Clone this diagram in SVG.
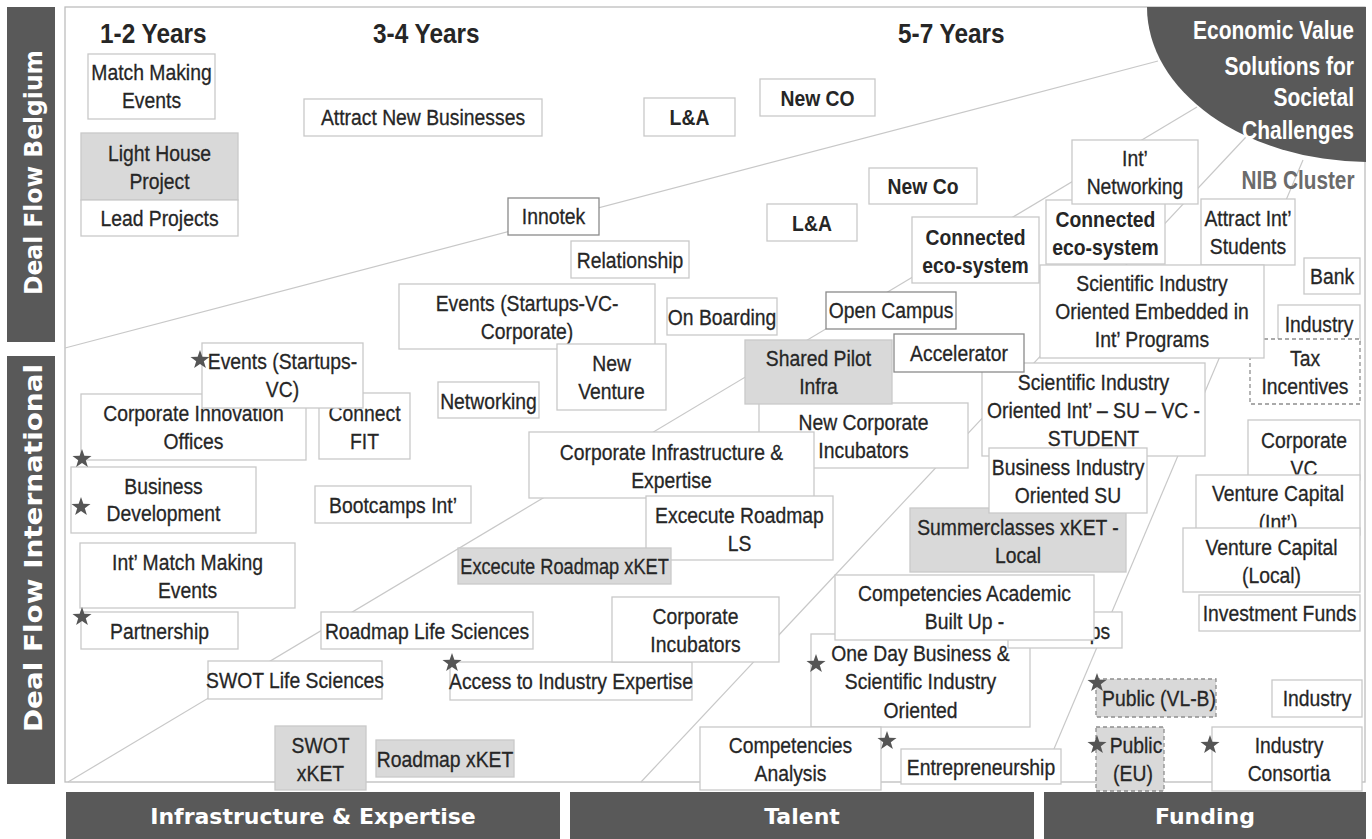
<svg xmlns="http://www.w3.org/2000/svg" width="1372" height="839" viewBox="0 0 1372 839">
<style>
.frame{fill:#fff;stroke:#bdbdbd;stroke-width:1.3}
.ln{stroke:#c8c8c8;stroke-width:1.2;fill:none}
.band{fill:#595959}
.bt{font-family:"DejaVu Sans",Verdana,sans-serif;font-weight:bold;font-size:22px;fill:#fff;text-anchor:middle}
.vt{font-family:"DejaVu Sans",Verdana,sans-serif;font-weight:bold;font-size:25px;fill:#fff;text-anchor:middle}
.box{fill:#fff;stroke:#c9c9c9;stroke-width:1.3}
.gbox{fill:#d9d9d9;stroke:#c9c9c9;stroke-width:1.3}
.dk{stroke:#8a8a8a}
.dash{stroke:#8f8f8f;stroke-dasharray:4 3}
.t{font-family:"Liberation Sans",Arial,sans-serif;font-size:22.5px;fill:#262626;stroke:#262626;stroke-width:0.3;text-anchor:middle;transform-box:fill-box;transform-origin:50% 50%;transform:scaleX(0.86)}
.nar{transform:scaleX(0.81)}
.b{font-weight:bold;stroke-width:0}
.yr{font-family:"Liberation Sans",Arial,sans-serif;font-size:28px;font-weight:bold;fill:#262626;transform-box:fill-box;transform-origin:0% 50%;transform:scaleX(0.87)}
.ev{font-family:"Liberation Sans",Arial,sans-serif;font-size:25px;font-weight:bold;fill:#fff;text-anchor:end;transform-box:fill-box;transform-origin:100% 50%;transform:scaleX(0.84)}
.nib{font-family:"Liberation Sans",Arial,sans-serif;font-size:25px;font-weight:bold;fill:#6b6b6b;text-anchor:middle;transform-box:fill-box;transform-origin:50% 50%;transform:scaleX(0.83)}
.star{fill:#555}
</style>
<defs>
<polygon id="star" points="0,-10 2.35,-3.24 9.51,-3.09 3.8,1.24 5.88,8.09 0,4 -5.88,8.09 -3.8,1.24 -9.51,-3.09 -2.35,-3.24"/>
</defs>
<rect class="frame" x="65" y="7" width="1300" height="775"/>
<g id="bands">
<rect class="band" x="7" y="7" width="48" height="335"/>
<text class="vt" transform="translate(42,172.5) rotate(-90)" textLength="245" lengthAdjust="spacingAndGlyphs">Deal Flow Belgium</text>
<rect class="band" x="7" y="356" width="48" height="428"/>
<text class="vt" transform="translate(42,548) rotate(-90)" textLength="368" lengthAdjust="spacingAndGlyphs">Deal Flow International</text>
<rect class="band" x="66" y="792" width="494" height="47"/>
<text class="bt" x="313" y="824">Infrastructure &amp; Expertise</text>
<rect class="band" x="570" y="792" width="464" height="47"/>
<text class="bt" x="802" y="824">Talent</text>
<rect class="band" x="1044" y="792" width="322" height="47"/>
<text class="bt" x="1205" y="824">Funding</text>
</g>
<g id="connectors">
<line class="ln" x1="65" y1="348" x2="1158" y2="61"/>
<line class="ln" x1="68" y1="782" x2="1197" y2="107"/>
<line class="ln" x1="641" y1="782" x2="1246" y2="137"/>
<line class="ln" x1="1040" y1="782" x2="1303" y2="160"/>
</g>
<g id="goal">
<path class="band" d="M1147,7 A223,155 0 0 0 1366,162 L1366,7 Z"/>
<text class="ev" x="1354" y="39">Economic Value</text>
<text class="ev" x="1354" y="75">Solutions for</text>
<text class="ev" x="1354" y="106">Societal</text>
<text class="ev" x="1354" y="139">Challenges</text>
</g>
<g id="years">
<text class="yr" x="100" y="43">1-2 Years</text>
<text class="yr" x="373" y="43">3-4 Years</text>
<text class="yr" x="898" y="43">5-7 Years</text>
</g>
<g id="n-match"><rect class="box" x="88" y="54" width="127" height="65"/><text class="t" x="151.5" y="80">Match Making</text><text class="t" x="151.5" y="108">Events</text></g>
<g id="n-lighthouse"><rect class="gbox" x="81" y="133" width="157" height="67"/><text class="t" x="159.5" y="161">Light House</text><text class="t" x="159.5" y="189">Project</text></g>
<g id="n-lead"><rect class="box" x="81" y="200" width="157" height="36"/><text class="t" x="159.5" y="226">Lead Projects</text></g>
<g id="n-attract"><rect class="box" x="304" y="99" width="238" height="37"/><text class="t" x="423" y="125">Attract New Businesses</text></g>
<g id="n-la1"><rect class="box" x="644" y="98" width="91" height="38"/><text class="t b" x="689.5" y="125">L&amp;A</text></g>
<g id="n-newco1"><rect class="box" x="760" y="79" width="115" height="37"/><text class="t b" x="817.5" y="106">New CO</text></g>
<g id="n-newco2"><rect class="box" x="869" y="168" width="108" height="36"/><text class="t b" x="923" y="194">New Co</text></g>
<g id="n-la2"><rect class="box" x="767" y="204" width="90" height="37"/><text class="t b" x="812" y="231">L&amp;A</text></g>
<g id="n-innotek"><rect class="box dk" x="508" y="198" width="91" height="37"/><text class="t" x="553.5" y="224">Innotek</text></g>
<g id="n-relationship"><rect class="box" x="571" y="241" width="118" height="37"/><text class="t" x="630" y="268">Relationship</text></g>
<g id="n-events-vcc"><rect class="box" x="399" y="284" width="256" height="65"/><text class="t" x="527" y="311">Events (Startups-VC-</text><text class="t" x="527" y="339">Corporate)</text></g>
<g id="n-onboarding"><rect class="box" x="667" y="298" width="110" height="37"/><text class="t" x="722" y="325">On Boarding</text></g>
<g id="n-newventure"><rect class="box" x="557" y="344" width="109" height="66"/><text class="t" x="611.5" y="371">New</text><text class="t" x="611.5" y="399">Venture</text></g>
<g id="n-networking"><rect class="box" x="438" y="382" width="101" height="36"/><text class="t" x="488.5" y="409">Networking</text></g>
<g id="n-corpinno"><rect class="box" x="81" y="394" width="225" height="66"/><text class="t" x="193.5" y="421">Corporate Innovation</text><text class="t" x="193.5" y="449">Offices</text></g>
<g id="n-connectfit"><rect class="box" x="319" y="393" width="91" height="66"/><text class="t" x="364.5" y="421">Connect</text><text class="t" x="364.5" y="449">FIT</text></g>
<g id="n-events-vc"><rect class="box" x="202" y="343" width="161" height="65"/><text class="t" x="282.5" y="369">Events (Startups-</text><text class="t" x="282.5" y="397">VC)</text><use href="#star" class="star" x="200" y="360"/></g>
<g id="n-bizdev"><rect class="box" x="71" y="467" width="185" height="66"/><text class="t" x="163.5" y="494">Business</text><text class="t" x="163.5" y="521">Development</text><use href="#star" class="star" x="81" y="507"/></g>
<use href="#star" class="star" x="82" y="459"/>
<g id="n-bootcamps"><rect class="box" x="315" y="486" width="156" height="37"/><text class="t" x="393" y="513">Bootcamps Int’</text></g>
<g id="n-intmatch"><rect class="box" x="80" y="543" width="215" height="65"/><text class="t" x="187.5" y="570">Int’ Match Making</text><text class="t" x="187.5" y="598">Events</text></g>
<g id="n-partnership"><rect class="box" x="81" y="612" width="157" height="37"/><text class="t" x="159.5" y="639">Partnership</text><use href="#star" class="star" x="82" y="617"/></g>
<g id="n-roadmapls"><rect class="box" x="321" y="612" width="212" height="37"/><text class="t" x="427" y="639">Roadmap Life Sciences</text></g>
<g id="n-swotls"><rect class="box" x="208" y="661" width="174" height="38"/><text class="t" x="295" y="688">SWOT Life Sciences</text></g>
<g id="n-access"><rect class="box" x="450" y="662" width="242" height="38"/><text class="t" x="571" y="689">Access to Industry Expertise</text><use href="#star" class="star" x="452" y="663"/></g>
<g id="n-swotxket"><rect class="gbox" x="275" y="726" width="91" height="64"/><text class="t" x="320.5" y="753">SWOT</text><text class="t" x="320.5" y="781">xKET</text></g>
<g id="n-roadmapxket"><rect class="gbox" x="376" y="740" width="138" height="37"/><text class="t" x="445" y="767">Roadmap xKET</text></g>
<g id="n-newcorpinc"><rect class="box" x="759" y="403" width="209" height="65"/><text class="t" x="863.5" y="430">New Corporate</text><text class="t" x="863.5" y="458">Incubators</text></g>
<g id="n-shared"><rect class="gbox" x="745" y="340" width="147" height="64"/><text class="t" x="818.5" y="366">Shared Pilot</text><text class="t" x="818.5" y="394">Infra</text></g>
<g id="n-corpinfra"><rect class="box" x="529" y="432" width="285" height="66"/><text class="t" x="671.5" y="460">Corporate Infrastructure &amp;</text><text class="t" x="671.5" y="488">Expertise</text></g>
<g id="n-execls"><rect class="box" x="646" y="496" width="187" height="64"/><text class="t" x="739.5" y="523">Excecute Roadmap</text><text class="t" x="739.5" y="551">LS</text></g>
<g id="n-execxket"><rect class="gbox" x="458" y="548" width="213" height="36"/><text class="t nar" x="564.5" y="574">Excecute Roadmap xKET</text></g>
<g id="n-corpinc"><rect class="box" x="612" y="597" width="167" height="65"/><text class="t" x="695.5" y="624">Corporate</text><text class="t" x="695.5" y="652">Incubators</text></g>
<g id="n-opencampus"><rect class="box dk" x="826" y="292" width="130" height="37"/><text class="t" x="891" y="318">Open Campus</text></g>
<g id="n-conn1"><rect class="box" x="912" y="217" width="127" height="66"/><text class="t b" x="975.5" y="245">Connected</text><text class="t b" x="975.5" y="273">eco-system</text></g>
<g id="n-conn2"><rect class="box" x="1046" y="200" width="119" height="64"/><text class="t b" x="1105.5" y="227">Connected</text><text class="t b" x="1105.5" y="255">eco-system</text></g>
<g id="n-intnet"><rect class="box" x="1072" y="140" width="126" height="64"/><text class="t" x="1135" y="166">Int’</text><text class="t" x="1135" y="194">Networking</text></g>
<g id="n-attractint"><rect class="box" x="1201" y="199" width="94" height="66"/><text class="t" x="1248" y="226">Attract Int’</text><text class="t" x="1248" y="254">Students</text></g>
<text id="nib" class="nib" x="1298" y="189">NIB Cluster</text>
<g id="n-bank"><rect class="box" x="1304" y="258" width="56" height="36"/><text class="t" x="1332" y="284">Bank</text></g>
<g id="n-industry1"><rect class="box" x="1278" y="305" width="82" height="37"/><text class="t" x="1319" y="332">Industry</text></g>
<g id="n-tax"><rect class="box dash" x="1250" y="339" width="110" height="65"/><text class="t" x="1305" y="366">Tax</text><text class="t" x="1305" y="394">Incentives</text></g>
<g id="n-sciemb"><rect class="box" x="1040" y="265" width="224" height="93"/><text class="t" x="1152" y="291">Scientific Industry</text><text class="t" x="1152" y="319">Oriented Embedded in</text><text class="t" x="1152" y="347">Int’ Programs</text></g>
<g id="n-sciint"><rect class="box" x="982" y="363" width="223" height="93"/><text class="t" x="1093.5" y="390">Scientific Industry</text><text class="t" x="1093.5" y="418">Oriented Int’ – SU – VC -</text><text class="t" x="1093.5" y="446">STUDENT</text></g>
<g id="n-accel"><rect class="box dk" x="894" y="334" width="130" height="38"/><text class="t" x="959" y="361">Accelerator</text></g>
<g id="n-summer"><rect class="gbox" x="910" y="508" width="216" height="64"/><text class="t" x="1018" y="535">Summerclasses xKET -</text><text class="t" x="1018" y="563">Local</text></g>
<g id="n-bizind"><rect class="box" x="989" y="448" width="158" height="65"/><text class="t" x="1068" y="475">Business Industry</text><text class="t" x="1068" y="503">Oriented SU</text></g>
<g id="n-corpvc"><rect class="box" x="1248" y="420" width="112" height="60"/><text class="t" x="1304" y="448">Corporate</text><text class="t" x="1304" y="476">VC</text></g>
<g id="n-vcint"><rect class="box" x="1196" y="475" width="164" height="60"/><text class="t" x="1278" y="501">Venture Capital</text><text class="t" x="1278" y="530">(Int’)</text></g>
<g id="n-vclocal"><rect class="box" x="1183" y="528" width="177" height="64"/><text class="t" x="1271.5" y="555">Venture Capital</text><text class="t" x="1271.5" y="583">(Local)</text></g>
<g id="n-invest"><rect class="box" x="1199" y="595" width="161" height="36"/><text class="t" x="1279.5" y="621">Investment Funds</text></g>
<g id="n-oneday"><rect class="box" x="811" y="634" width="219" height="93"/><text class="t" x="920.5" y="661">One Day Business &amp;</text><text class="t" x="920.5" y="689">Scientific Industry</text><text class="t" x="920.5" y="718">Oriented</text><use href="#star" class="star" x="816" y="664"/></g>
<g id="n-ps"><rect class="box" x="1008" y="612" width="114" height="36"/><text class="t" x="1100" y="639">ps</text></g>
<g id="n-compacad"><rect class="box" x="835" y="575" width="259" height="65"/><text class="t" x="964.5" y="601">Competencies Academic</text><text class="t" x="964.5" y="629">Built Up -</text></g>
<g id="n-companalysis"><rect class="box" x="700" y="727" width="181" height="63"/><text class="t" x="790.5" y="753">Competencies</text><text class="t" x="790.5" y="781">Analysis</text></g>
<use href="#star" class="star" x="887" y="741"/>
<g id="n-entre"><rect class="box" x="901" y="749" width="160" height="35"/><text class="t" x="981" y="775">Entrepreneurship</text></g>
<g id="n-publicvlb"><rect class="gbox dash" x="1096" y="679" width="120" height="38"/><text class="t" x="1159" y="706">Public (VL-B)</text><use href="#star" class="star" x="1097" y="683"/></g>
<g id="n-industry2"><rect class="box" x="1272" y="680" width="90" height="37"/><text class="t" x="1317" y="706">Industry</text></g>
<g id="n-publiceu"><rect class="gbox dash" x="1096" y="727" width="68" height="64"/><text class="t" x="1136" y="753">Public</text><text class="t" x="1133" y="781">(EU)</text><use href="#star" class="star" x="1097" y="745"/></g>
<g id="n-indcons"><rect class="box" x="1212" y="727" width="150" height="64"/><text class="t" x="1289" y="753">Industry</text><text class="t" x="1289" y="781">Consortia</text><use href="#star" class="star" x="1210" y="745"/></g>
</svg>
